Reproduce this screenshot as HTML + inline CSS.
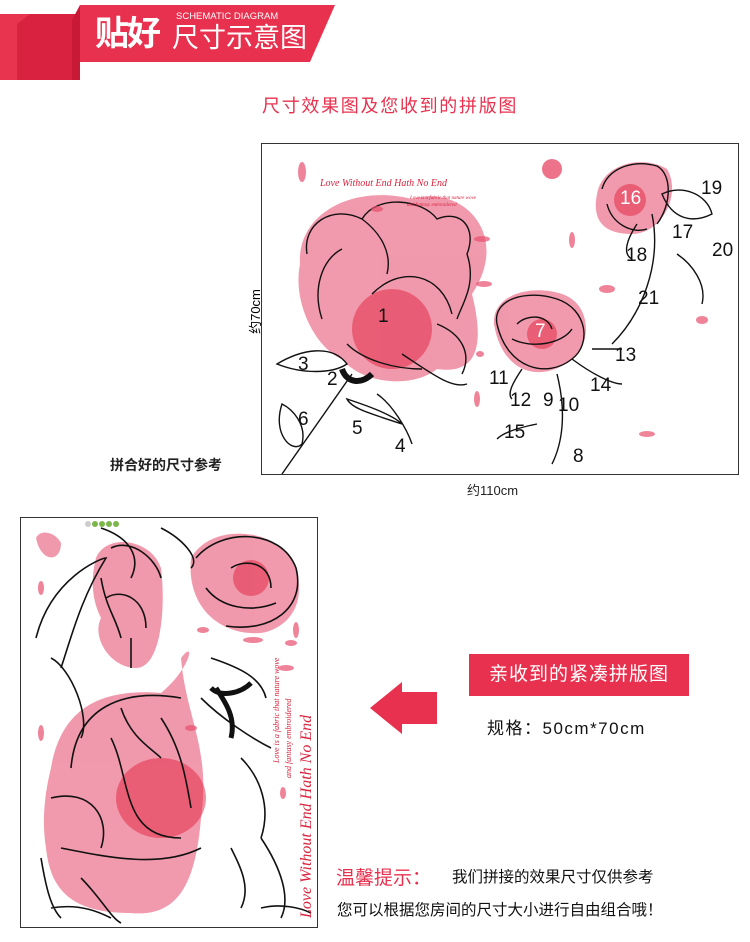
<!DOCTYPE html>
<html><head><meta charset="utf-8"><style>
*{margin:0;padding:0;box-sizing:border-box}
body{width:750px;height:942px;background:#fff;position:relative;overflow:hidden;font-family:"Liberation Sans","Noto Sans CJK SC",sans-serif}
.a{position:absolute;white-space:nowrap}
.n{position:absolute;font-size:19px;color:#111;font-family:"Liberation Sans",sans-serif}
</style></head><body>
<svg class="a" style="left:0;top:0" width="340" height="85">
<polygon points="17,14 80,14 80,80 17,80" fill="#d92240"/>
<polygon points="0,14 30,14 17,24 17,80 0,80" fill="#e8344f"/>
<polygon points="80,5 335,5 310,62 80,62" fill="#e8314e"/>
<polygon points="72,20 80,5 80,80 72,80" fill="#c81a36"/>
</svg>
<div class="a" style="left:95px;top:14px;font-size:34px;font-weight:bold;color:#fff;letter-spacing:-2px;line-height:40px">贴好</div>
<div class="a" style="left:172px;top:22px;font-size:27px;color:#fff;line-height:32px">尺寸示意图</div>
<div class="a" style="left:176px;top:12px;font-size:9.5px;color:#fff;line-height:10px">SCHEMATIC DIAGRAM</div>
<div class="a" style="left:262px;top:92px;font-size:18px;color:#e8314e;letter-spacing:1.7px">尺寸效果图及您收到的拼版图</div>

<div class="a" style="left:261px;top:143px;width:478px;height:332px;border:1.5px solid #333"></div>
<svg class="a" style="left:262px;top:144px" width="476" height="330">
<g fill="#ec6f8a" opacity="0.7">
<path d="M38,120 C35,70 90,40 150,55 C200,40 250,90 210,150 C225,210 210,230 175,225 C150,245 100,240 80,215 C55,205 30,160 38,120Z"/>
<path d="M232,180 C230,150 270,140 300,150 C330,160 330,200 310,215 C280,240 240,230 232,180Z"/>
<path d="M335,50 C340,20 380,10 405,25 C420,50 400,90 370,90 C340,90 330,75 335,50Z"/>
</g>
<g fill="#e0223d" opacity="0.5"><circle cx="130" cy="185" r="40"/><circle cx="280" cy="190" r="15"/><circle cx="368" cy="56" r="16"/></g>
<g fill="none" stroke="#111" stroke-width="1.4">
<path d="M45,110 C40,80 70,60 100,75 C115,50 160,55 175,75 C200,65 215,85 205,110 C215,140 200,160 195,175 M60,175 C50,145 60,115 80,105 M100,75 C120,90 130,110 125,130 M110,150 C140,120 180,130 190,170 M85,200 C100,215 130,225 160,225 M175,180 C200,190 210,210 200,230 M140,210 C170,230 190,245 205,240"/>
<path d="M235,180 C230,155 265,145 295,155 C325,165 330,200 310,215 C285,235 245,225 235,180 M255,180 C265,170 285,170 290,185 M250,195 C270,205 300,200 310,185"/>
<path d="M340,45 C345,25 370,15 395,22 C410,30 410,60 395,80 M345,60 C350,80 370,90 385,85"/>
<path d="M90,230 L20,330 M15,220 C40,205 70,200 85,220 C70,230 40,230 15,220Z M85,255 C100,260 130,270 140,280 C110,270 90,265 85,255Z M20,260 C10,290 30,310 40,300 C45,280 30,265 20,260Z M115,250 C130,260 145,285 150,300"/>
<path d="M295,230 C305,270 300,300 290,320 M275,280 C250,285 240,290 235,295 M310,215 C330,230 350,240 360,240 M330,205 L360,205 M260,225 C250,240 245,250 250,255"/>
<path d="M390,70 C400,120 380,170 350,200 M400,50 C420,40 445,50 450,70 C430,80 410,75 400,50Z M415,110 C430,120 445,140 440,160 M375,80 C365,95 360,110 370,115"/>
</g>
<path d="M80,225 C85,240 100,240 110,230" stroke="#111" stroke-width="6" fill="none"/>
<g fill="#e8506e" opacity="0.7"><ellipse cx="40" cy="28" rx="4" ry="10"/><ellipse cx="115" cy="65" rx="6" ry="3"/><ellipse cx="220" cy="95" rx="8" ry="3"/><ellipse cx="222" cy="140" rx="8" ry="3"/><ellipse cx="310" cy="96" rx="3" ry="8"/><ellipse cx="345" cy="145" rx="8" ry="4"/><ellipse cx="440" cy="176" rx="6" ry="4"/><ellipse cx="385" cy="290" rx="8" ry="3"/><ellipse cx="215" cy="255" rx="3" ry="8"/><ellipse cx="218" cy="210" rx="4" ry="3"/></g>
<circle cx="290" cy="25" r="10" fill="#e8506e" opacity="0.8"/>
<text x="58" y="42" font-family="Liberation Serif" font-style="italic" font-size="10" fill="#d8243e">Love Without End Hath No End</text>
<text x="148" y="55" font-family="Liberation Serif" font-style="italic" font-size="5" fill="#d8243e">Love is a fabric that nature wove</text>
<text x="145" y="62" font-family="Liberation Serif" font-style="italic" font-size="5" fill="#d8243e">and fantasy embroidered</text>
</svg>
<div class="n" style="left:378px;top:306px">1</div>
<div class="n" style="left:327px;top:369px">2</div>
<div class="n" style="left:298px;top:354px">3</div>
<div class="n" style="left:395px;top:436px">4</div>
<div class="n" style="left:352px;top:418px">5</div>
<div class="n" style="left:298px;top:409px">6</div>
<div class="n" style="left:535px;top:321px;color:#fff">7</div>
<div class="n" style="left:573px;top:446px">8</div>
<div class="n" style="left:543px;top:390px">9</div>
<div class="n" style="left:558px;top:395px">10</div>
<div class="n" style="left:489px;top:368px">11</div>
<div class="n" style="left:510px;top:390px">12</div>
<div class="n" style="left:615px;top:345px">13</div>
<div class="n" style="left:590px;top:375px">14</div>
<div class="n" style="left:504px;top:422px">15</div>
<div class="n" style="left:620px;top:188px;color:#fff">16</div>
<div class="n" style="left:672px;top:222px">17</div>
<div class="n" style="left:626px;top:245px">18</div>
<div class="n" style="left:701px;top:178px">19</div>
<div class="n" style="left:712px;top:240px">20</div>
<div class="n" style="left:638px;top:288px">21</div>
<div class="a" style="left:232px;top:302px;font-size:13px;transform:rotate(-90deg);transform-origin:center">约70cm</div>
<div class="a" style="left:110px;top:455px;font-size:14px;font-weight:bold;color:#222">拼合好的尺寸参考</div>
<div class="a" style="left:467px;top:480px;font-size:13px;color:#222">约110cm</div>

<div class="a" style="left:20px;top:517px;width:298px;height:411px;border:1.5px solid #333"></div>
<svg class="a" style="left:21px;top:518px" width="296" height="409">
<g fill="#ec6f8a" opacity="0.7">
<path d="M30,250 C40,190 80,170 140,175 C170,150 175,120 160,140 C165,200 190,230 180,300 C175,360 160,400 110,395 C60,395 30,380 25,330 C20,300 25,270 30,250Z"/>
<path d="M170,40 C190,5 250,10 270,40 C290,80 270,110 240,115 C200,118 165,90 170,40Z"/>
<path d="M75,40 C85,15 130,20 140,50 C145,90 140,150 115,150 C90,150 70,120 80,100 C70,80 70,60 75,40Z"/>
<path d="M15,20 C20,10 35,15 40,25 C40,45 20,45 15,20Z"/>
</g>
<g fill="#e0223d" opacity="0.5"><circle cx="230" cy="60" r="18"/><ellipse cx="140" cy="280" rx="45" ry="40"/></g>
<g fill="none" stroke="#111" stroke-width="1.6">
<path d="M50,250 C55,190 100,170 160,180 M30,280 C70,270 90,300 80,330 M90,220 C110,260 100,320 160,320 M40,330 C90,340 140,350 180,330 M60,360 C80,380 90,400 100,405 M140,200 C160,230 165,260 170,290 M100,190 C110,220 130,230 140,240"/>
<path d="M175,40 C200,10 260,10 275,50 C285,90 250,115 205,108 M210,50 C225,40 250,45 250,70 M185,70 C200,90 230,95 255,85"/>
<path d="M90,30 C110,20 135,40 140,60 M85,80 C100,70 125,80 125,110 M110,120 L110,150 M80,60 C85,90 95,100 100,120"/>
<path d="M15,120 C30,60 80,40 85,40 C60,80 50,120 40,150 M30,140 C50,150 70,200 60,220 M180,180 C200,200 230,220 250,230 M190,140 C220,150 240,160 245,180 M140,10 C160,20 180,40 170,50 M220,240 C240,260 250,290 240,320 M210,330 C220,350 230,370 220,390 M240,320 C260,350 270,380 260,400 M20,340 C25,370 30,390 40,400 M30,390 C60,385 80,395 90,400 M240,390 C260,385 280,390 290,395 M80,10 C110,20 120,40 110,60"/>
</g>
<path d="M195,170 C205,185 215,200 210,220 M190,170 C200,180 220,175 230,165" stroke="#111" stroke-width="5" fill="none"/>
<g fill="#e8506e" opacity="0.7"><ellipse cx="20" cy="70" rx="3" ry="7"/><ellipse cx="20" cy="215" rx="3" ry="8"/><ellipse cx="182" cy="112" rx="6" ry="3"/><ellipse cx="232" cy="122" rx="10" ry="3"/><ellipse cx="270" cy="125" rx="6" ry="3"/><ellipse cx="265" cy="150" rx="8" ry="3"/><ellipse cx="275" cy="112" rx="3" ry="8"/><ellipse cx="170" cy="210" rx="6" ry="3"/><ellipse cx="262" cy="275" rx="3" ry="6"/></g>
<text font-family="Liberation Serif" font-style="italic" font-size="16" fill="#d8243e" transform="translate(290,400) rotate(-90)">Love Without End Hath No End</text>
<text font-family="Liberation Serif" font-style="italic" font-size="8" fill="#d8243e" transform="translate(258,245) rotate(-90)">Love is a fabric that nature wove</text>
<text font-family="Liberation Serif" font-style="italic" font-size="8" fill="#d8243e" transform="translate(270,260) rotate(-90)">and fantasy embroidered</text>
<g fill="#7ab648"><circle cx="67" cy="6" r="3" fill="#ccc"/><circle cx="74" cy="6" r="3"/><circle cx="81" cy="6" r="3"/><circle cx="88" cy="6" r="3"/><circle cx="95" cy="6" r="3"/></g>
</svg>

<svg class="a" style="left:370px;top:682px" width="68" height="52"><polygon points="0,26 32,0 32,10 67,10 67,42 32,42 32,52" fill="#e8314e"/></svg>
<div class="a" style="left:469px;top:654px;width:220px;height:42px;background:#e8314e;color:#fff;font-size:19px;line-height:42px;text-align:center;letter-spacing:1px">亲收到的紧凑拼版图</div>
<div class="a" style="left:487px;top:714px;font-size:17px;color:#111;letter-spacing:1.5px">规格：50cm*70cm</div>
<div class="a" style="left:336px;top:863px;font-size:19px;color:#e8314e">温馨提示：</div>
<div class="a" style="left:452px;top:865px;font-size:15.5px;color:#111">我们拼接的效果尺寸仅供参考</div>
<div class="a" style="left:337px;top:898px;font-size:15.5px;color:#111">您可以根据您房间的尺寸大小进行自由组合哦！</div>
</body></html>
